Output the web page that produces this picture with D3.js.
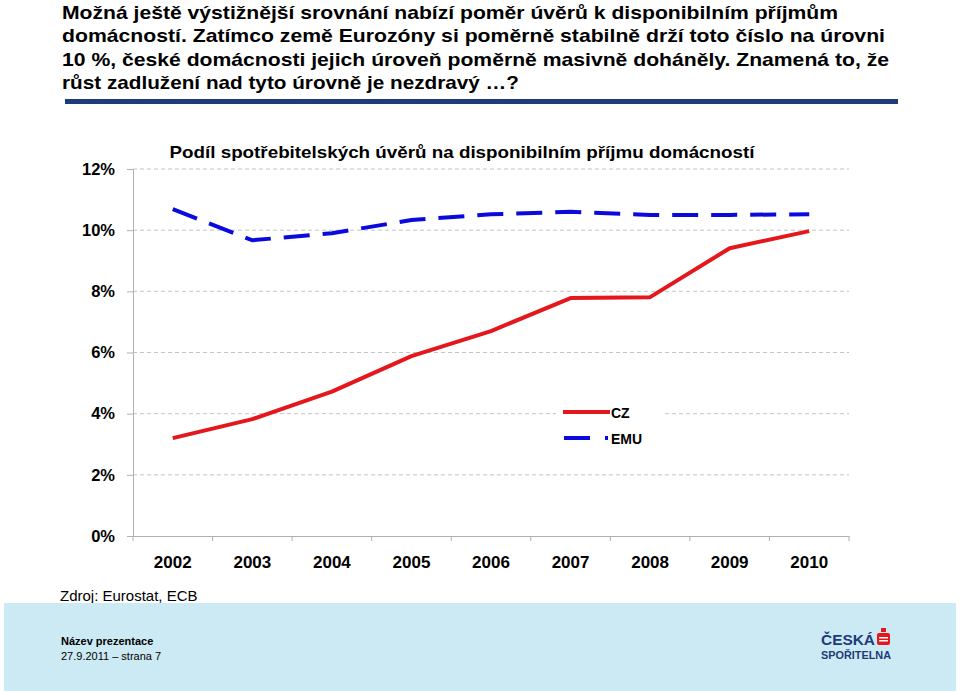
<!DOCTYPE html>
<html><head><meta charset="utf-8">
<script src="https://cdn.jsdelivr.net/npm/d3@7"></script>
<style>body{margin:0;background:#fff}svg{display:block;font-family:"Liberation Sans",Arial,sans-serif}</style>
</head><body>
<svg id="c" width="960" height="691"></svg>
<script>
const years = ["2002","2003","2004","2005","2006","2007","2008","2009","2010"];
const cz  = [3.2, 3.82, 4.72, 5.88, 6.7, 7.78, 7.81, 9.41, 9.97];
const emu = [10.69, 9.67, 9.9, 10.33, 10.52, 10.6, 10.5, 10.5, 10.52];
const yTicks = [0, 2, 4, 6, 8, 10, 12];
const headerLines = [
 "Možná ještě výstižnější srovnání nabízí poměr úvěrů k disponibilním příjmům",
 "domácností. Zatímco země Eurozóny si poměrně stabilně drží toto číslo na úrovni",
 "10 %, české domácnosti jejich úroveň poměrně masivně doháněly. Znamená to, že",
 "růst zadlužení nad tyto úrovně je nezdravý …?"
];
const headerWidths = [776, 823, 827, 457];
const chartTitle = "Podíl spotřebitelských úvěrů na disponibilním příjmu domácností";

const svg = d3.select("#c");

// header
headerLines.forEach((t,i)=>{
  svg.append("text").attr("x",62).attr("y",19+i*23.3)
    .attr("font-size",19).attr("font-weight","bold").attr("fill","#000")
    .attr("textLength",headerWidths[i]).attr("lengthAdjust","spacingAndGlyphs")
    .text(t);
});
svg.append("rect").attr("x",65).attr("y",99).attr("width",833).attr("height",5).attr("fill","#1F3A78");

const x = d3.scaleBand().domain(years).range([133,849]);
const y = d3.scaleLinear().domain([0,12]).range([536,169]);

// gridlines
svg.append("g").selectAll("line").data(yTicks.filter(d=>d>0)).join("line")
  .attr("x1",133).attr("x2",849).attr("y1",d=>y(d)).attr("y2",d=>y(d))
  .attr("stroke","#c4c4c4").attr("stroke-width",1).attr("stroke-dasharray","4,3");

// y axis
const ya = svg.append("g").attr("transform","translate(133,0)")
  .call(d3.axisLeft(y).tickValues(yTicks).tickFormat(d=>d+"%").tickSize(6).tickPadding(12));
ya.select(".domain").attr("stroke","#b0b0b0");
ya.selectAll(".tick line").attr("stroke","#b0b0b0");
ya.selectAll("text").attr("font-size",16.5).attr("font-weight","bold").attr("fill","#000").attr("font-family","Liberation Sans, Arial, sans-serif");

// x axis
const xa = svg.append("g").attr("transform","translate(0,536)")
  .call(d3.axisBottom(x).tickSize(0).tickPadding(20));
xa.select(".domain").attr("stroke","#b0b0b0");
xa.selectAll(".tick text").attr("font-size",17).attr("font-weight","bold").attr("fill","#000").attr("font-family","Liberation Sans, Arial, sans-serif");
// boundary ticks
svg.append("g").selectAll("line").data(years.concat(["end"])).join("line")
  .attr("x1",(d,i)=>133+i*x.step()).attr("x2",(d,i)=>133+i*x.step())
  .attr("y1",536).attr("y2",541).attr("stroke","#b0b0b0");

// chart title
svg.append("text").attr("x",462).attr("y",158).attr("text-anchor","middle")
  .attr("font-size",16.5).attr("font-weight","bold").attr("fill","#000")
  .attr("textLength",585).attr("lengthAdjust","spacingAndGlyphs").text(chartTitle);

const line = d3.line().x((d,i)=>x(years[i])+x.bandwidth()/2).y(d=>y(d));

// legend background
svg.append("rect").attr("x",556).attr("y",402).attr("width",106).attr("height",46).attr("fill","#fff");

svg.append("path").datum(emu).attr("d",line).attr("fill","none")
  .attr("stroke","#0A0ADE").attr("stroke-width",4).attr("stroke-dasharray","26,13");
svg.append("path").datum(cz).attr("d",line).attr("fill","none")
  .attr("stroke","#E4171C").attr("stroke-width",4).attr("stroke-linejoin","round");

// legend
const lg = svg.append("g");
lg.append("line").attr("x1",563).attr("x2",610).attr("y1",412).attr("y2",412).attr("stroke","#E4171C").attr("stroke-width",4);
lg.append("text").attr("x",611).attr("y",418).attr("font-size",14).attr("font-weight","bold").text("CZ");
lg.append("line").attr("x1",564).attr("x2",608).attr("y1",438).attr("y2",438).attr("stroke","#0A0ADE").attr("stroke-width",4).attr("stroke-dasharray","26,15");
lg.append("text").attr("x",611).attr("y",444).attr("font-size",14).attr("font-weight","bold").text("EMU");

// source
svg.append("text").attr("x",60).attr("y",601).attr("font-size",15).attr("fill","#000").text("Zdroj: Eurostat, ECB");

// footer
svg.append("rect").attr("x",4).attr("y",603).attr("width",952).attr("height",88).attr("fill","#CCEAF3");
svg.append("text").attr("x",61).attr("y",645).attr("font-size",11).attr("font-weight","bold").text("Název prezentace");
svg.append("text").attr("x",61).attr("y",660).attr("font-size",11).text("27.9.2011 – strana 7");
svg.append("text").attr("x",821).attr("y",645).attr("font-size",15).attr("font-weight","bold").attr("fill","#1E3A78")
  .attr("textLength",54).attr("lengthAdjust","spacingAndGlyphs").text("ČESKÁ");
svg.append("text").attr("x",821).attr("y",659).attr("font-size",11.5).attr("font-weight","bold").attr("fill","#1E3A78")
  .attr("textLength",70).attr("lengthAdjust","spacingAndGlyphs").text("SPOŘITELNA");
const lgo = svg.append("g");
lgo.append("rect").attr("x",877).attr("y",633).attr("width",13).attr("height",12).attr("rx",2).attr("fill","#E4171C");
lgo.append("rect").attr("x",881).attr("y",628).attr("width",5).attr("height",4).attr("fill","#E4171C");
lgo.append("rect").attr("x",879).attr("y",637).attr("width",9).attr("height",1.5).attr("fill","#fff");
lgo.append("rect").attr("x",879).attr("y",640).attr("width",9).attr("height",1.5).attr("fill","#fff");
</script>
</body></html>
